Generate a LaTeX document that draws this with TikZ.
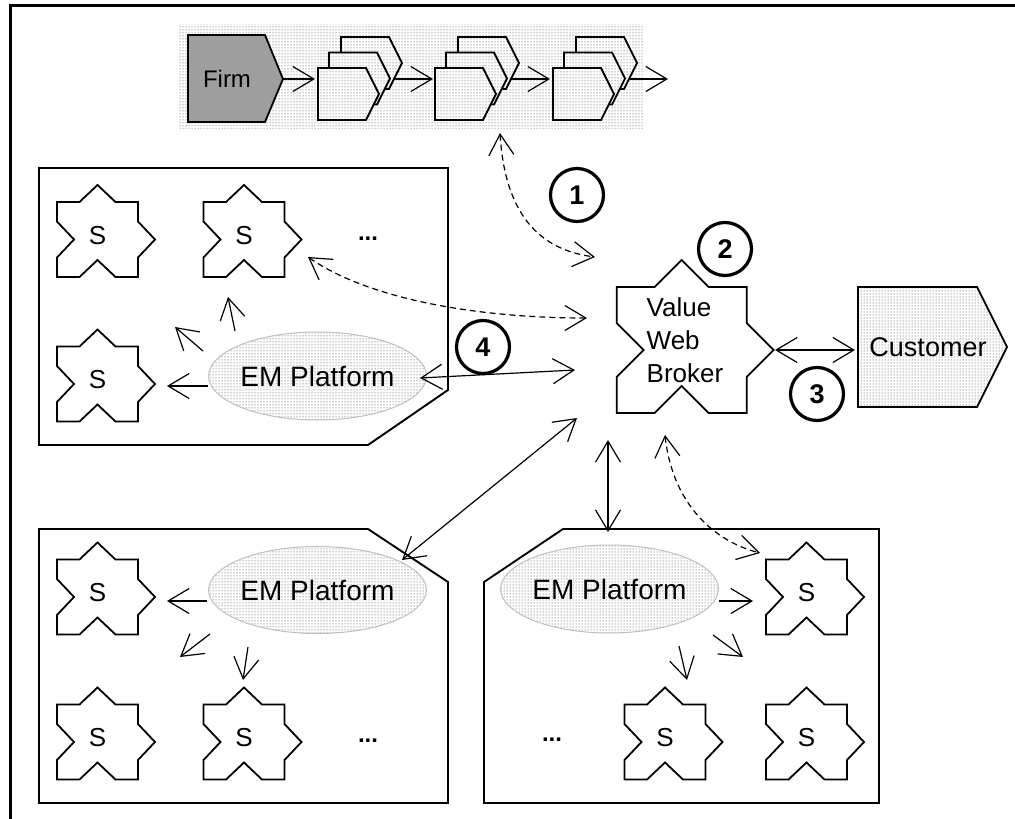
\documentclass[tikz,border=0pt]{standalone}
\usepackage{fontspec}
\setmainfont{Liberation Sans}
\usetikzlibrary{arrows.meta,shapes.geometric,patterns}

% outline of a puzzle piece: half width, half height, half width of a point, depth of a point
\newcommand\puzzlepath[4]{(-#1,-#2) -- (-#3,-#2) -- (0,-#2-#4) -- (#3,-#2) -- (#1,-#2)
  -- (#1,-#3) -- (#1+#4,0) -- (#1,#3) -- (#1,#2) -- (#3,#2) -- (0,#2-#4) -- (-#3,#2)
  -- (-#1,#2) -- (-#1,#3) -- (-#1+#4,0) -- (-#1,-#3) -- cycle}

% one stage of the value chain: a pentagon whose upper-left corner is given
\newcommand\stagebox[2]{\fill[white] (#1,#2) -- ++(48,0) -- ++(13,26) -- ++(-13,26) -- ++(-48,0) -- cycle;
  \draw[shapeline, dotfill] (#1,#2) -- ++(48,0) -- ++(13,26) -- ++(-13,26) -- ++(-48,0) -- cycle;}
\newcommand\stagegroup[1]{\stagebox{#1+23}{37}\stagebox{#1+11}{52.5}\stagebox{#1}{68}}

% a supplier piece with its label
\newcommand\supplier[2]{\pic at (#2) {supplier}; \node[stext] (#1) at (#2) {S};}

\begin{document}
\begin{tikzpicture}[x=1pt, y=-1pt, line join=miter,
  >={Straight Barb[length=21pt,width=25pt]},
  frameline/.style={line width=3pt},
  shapeline/.style={draw=black, line width=1.8pt},
  panel/.style={draw=black, line width=1.9pt},
  dotfill/.style={pattern=dots, pattern color=black!80},
  hatchfill/.style={fill=black!38},
  conn/.style={line width=1.2pt},
  dashconn/.style={conn, dash pattern=on 6pt off 4pt},
  lbl/.style={font=\fontsize{27}{32}\selectfont, inner sep=0pt},
  stext/.style={font=\fontsize{26}{30}\selectfont, inner sep=0pt, yshift=4pt},
  platform/.style={ellipse, dotfill, draw=black!25, line width=1pt,
    minimum width=181pt, minimum height=88pt, inner sep=0pt,
    font=\fontsize{28}{32}\selectfont},
  numcircle/.style={circle, draw, line width=3.2pt, minimum size=53pt, inner sep=0pt,
    fill=white, font=\bfseries\fontsize{27}{30}\selectfont},
  more/.style={font=\bfseries\fontsize{24}{28}\selectfont, inner sep=0pt},
  pics/supplier/.style={code={\draw[shapeline, fill=white] \puzzlepath{40.5}{37.5}{18}{17};}},
  pics/broker/.style={code={\draw[shapeline, fill=white] \puzzlepath{65}{63}{27}{27};}}
]
\useasboundingbox (0,0) rectangle (1015,819);

% page frame
\draw[frameline] (10,819) -- (10,5) -- (1015,5);

% ---------- value chain of the firm ----------
\fill[dotfill] (178,24) rectangle (643,128);
\draw[shapeline, hatchfill] (188,35) -- (265,35) -- (283,79) -- (265,122) -- (188,122) -- cycle;
\node[lbl, font=\fontsize{24}{28}\selectfont] (firm) at (227,79) {Firm};

\coordinate (firmtip) at (283,79);
\coordinate (g1in) at (315,79);  \coordinate (g1out) at (393,79);
\coordinate (g2in) at (433,79);  \coordinate (g2out) at (511,79);
\coordinate (g3in) at (550,79);  \coordinate (g3out) at (630,79);
\coordinate (chainend) at (668,79);
\draw[conn,->] (firmtip) -- (g1in);
\draw[conn,->] (g1out) -- (g2in);
\draw[conn,->] (g2out) -- (g3in);
\draw[conn,->] (g3out) -- (chainend);
\stagegroup{318}
\stagegroup{435}
\stagegroup{553}

% ---------- e-marketplace panels ----------
\draw[panel] (39,168) -- (448,168) -- (448,390) -- (368,445) -- (39,445) -- cycle;
\draw[panel] (39,529) -- (368,529) -- (448,582) -- (448,803) -- (39,803) -- cycle;
\draw[panel] (563,529) -- (879,529) -- (879,803) -- (484,803) -- (484,582) -- cycle;

% upper left panel
\supplier{sa1}{97.5,239.5}
\supplier{sa2}{244,239.5}
\supplier{sa3}{97.5,384}
\node[more] (mra) at (368,239) {...};
\node[platform] (ema) at (317.5,376) {EM Platform};

% lower left panel
\supplier{sb1}{97.5,597}
\supplier{sb2}{97.5,742}
\supplier{sb3}{244,742}
\node[more] (mrb) at (368,741) {...};
\node[platform, minimum height=87pt] (emb) at (317.5,590) {EM Platform};

% lower right panel
\supplier{sc1}{806.5,597}
\supplier{sc2}{665,742}
\supplier{sc3}{806.5,742}
\node[more] (mrc) at (552,740) {...};
\node[platform, minimum width=177pt] (emc) at (609.5,589) {EM Platform};

% ---------- broker and customer ----------
\pic at (681.7,350) {broker};
\node[lbl, align=left, font=\fontsize{26}{33}\selectfont] (broker) at (685,340) {Value\\Web\\Broker};

\draw[shapeline, dotfill] (858,287) -- (977,287) -- (1007,347) -- (977,407) -- (858,407) -- cycle;
\node[lbl] (customer) at (928,347) {Customer};

% ---------- platform to supplier links ----------
\coordinate (a1s) at (208,386); \coordinate (a1e) at (167,386);
\coordinate (a2s) at (203,351); \coordinate (a2e) at (175,327);
\coordinate (a3s) at (235,331); \coordinate (a3e) at (228,297);
\draw[conn,->] (a1s) -- (a1e);
\draw[conn,->] (a2s) -- (a2e);
\draw[conn,->] (a3s) -- (a3e);

\coordinate (b1s) at (207,601); \coordinate (b1e) at (167,601);
\coordinate (b2s) at (210,634); \coordinate (b2e) at (180,657);
\coordinate (b3s) at (248,647); \coordinate (b3e) at (243,680);
\draw[conn,->] (b1s) -- (b1e);
\draw[conn,->] (b2s) -- (b2e);
\draw[conn,->] (b3s) -- (b3e);

\coordinate (c1s) at (719,601); \coordinate (c1e) at (753,601);
\coordinate (c2s) at (713,635); \coordinate (c2e) at (743,657);
\coordinate (c3s) at (679,646); \coordinate (c3e) at (687,680);
\draw[conn,->] (c1s) -- (c1e);
\draw[conn,->] (c2s) -- (c2e);
\draw[conn,->] (c3s) -- (c3e);

% ---------- broker links ----------
\coordinate (chainlink) at (500,133);  \coordinate (brokerA) at (595,257);
\coordinate (supplink) at (308,257);   \coordinate (brokerB) at (587,318);
\coordinate (emalink) at (420,378);    \coordinate (brokerC) at (575,370);
\coordinate (emblink) at (402,560);    \coordinate (brokerD) at (577,418);
\coordinate (brokerE) at (608,440);    \coordinate (emclink) at (608,532);
\coordinate (brokerF) at (665,435);    \coordinate (scl) at (760,553);
\coordinate (brokerR) at (775,350);    \coordinate (custlink) at (855,350);

\draw[dashconn,<->] (chainlink) .. controls (505,215) and (540,250) .. (brokerA);
\draw[dashconn,<->] (supplink) .. controls (370,300) and (480,318) .. (brokerB);
\draw[conn,<->] (emalink) -- (brokerC);
\draw[conn,<->] (emblink) -- (brokerD);
\draw[conn,<->] (brokerE) -- (emclink);
\draw[dashconn,<->] (brokerF) .. controls (672,500) and (710,540) .. (scl);
\draw[conn,<->] (brokerR) -- (custlink);

% ---------- numbered steps ----------
\node[numcircle] (n1) at (577,195) {1};
\node[numcircle] (n2) at (725,249) {2};
\node[numcircle] (n3) at (817,394) {3};
\node[numcircle] (n4) at (483,347) {4};
\end{tikzpicture}
\end{document}
